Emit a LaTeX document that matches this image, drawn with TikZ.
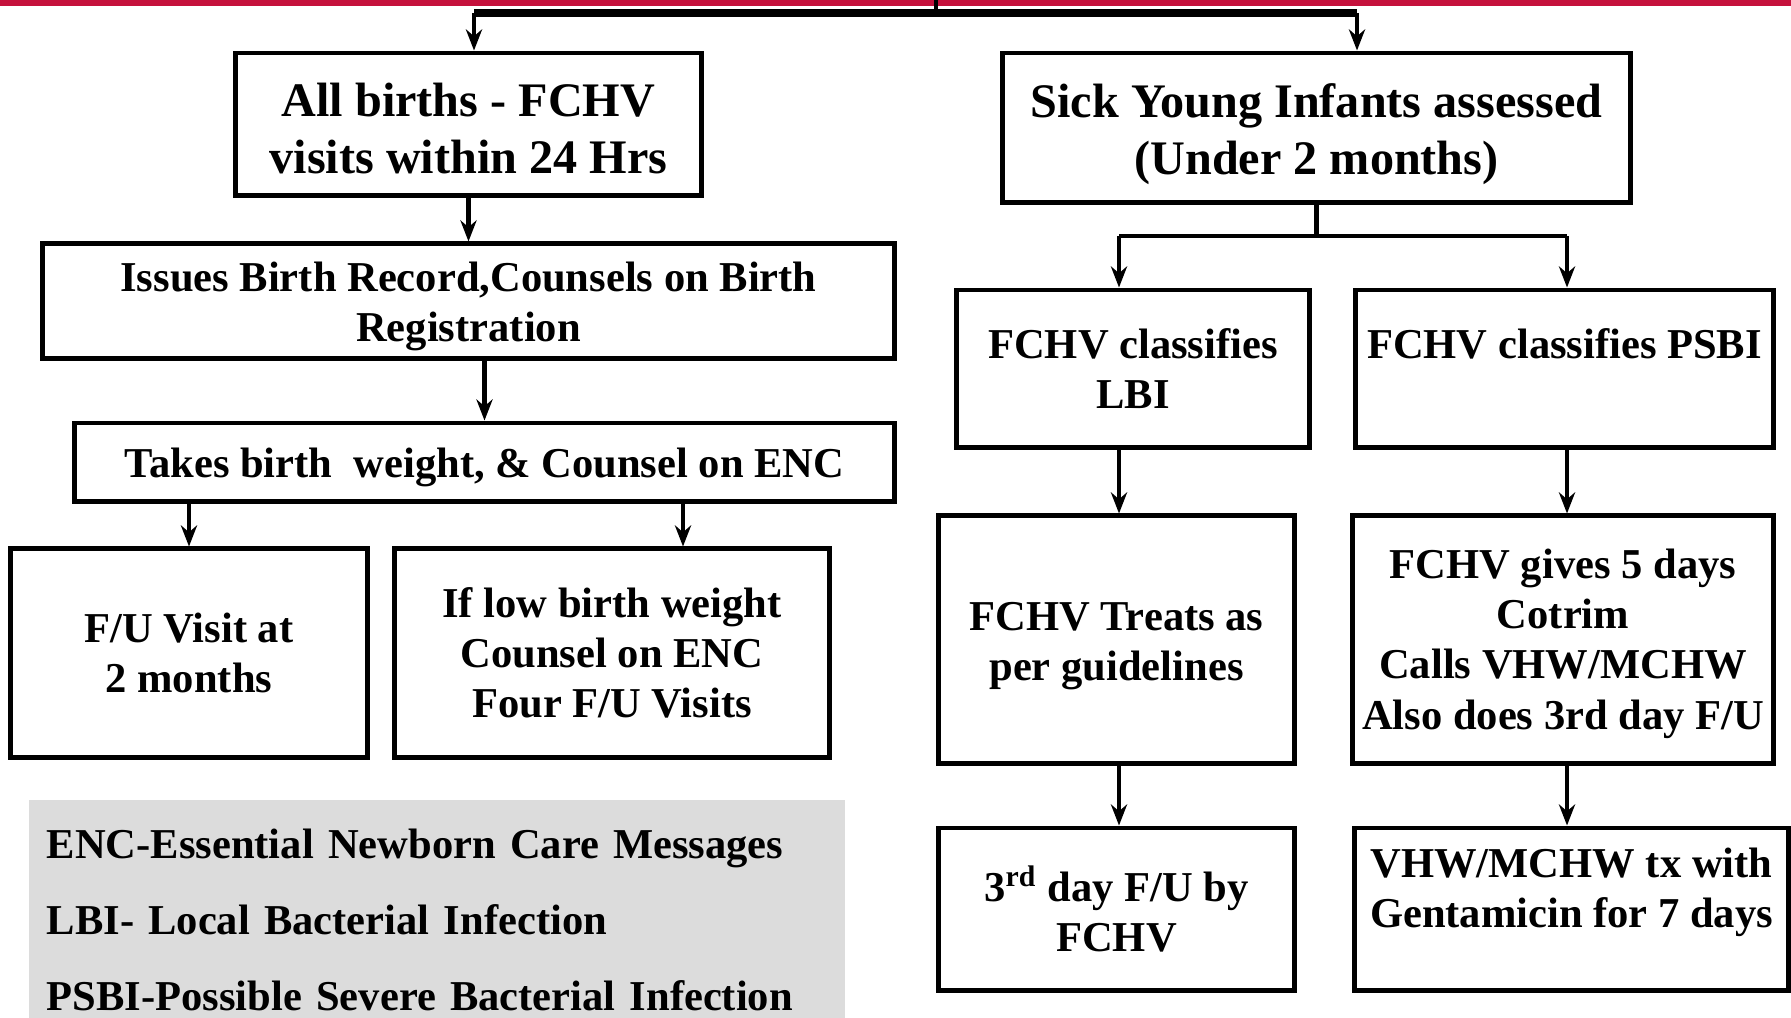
\documentclass[tikz,border=0pt]{standalone}
\usepackage{fontspec}
\setmainfont{Liberation Serif}
\usetikzlibrary{arrows.meta}

\definecolor{bandred}{RGB}{197,17,60}
\definecolor{keygray}{RGB}{220,220,220}
% invisible rule that pushes the first line of a box down a little
\newcommand{\topstrut}[1]{\rule{0pt}{#1}}

\tikzset{
  box/.style={draw, line width=1.4pt, align=center, inner sep=2pt,
    font=\fontsize{12.1}{14.3}\selectfont\bfseries},
  bigbox/.style={box, font=\fontsize{13.7}{16.2}\selectfont\bfseries},
  link/.style={line width=1.4pt},
  arr/.style={link, -{Stealth[length=6pt,width=4.6pt]}},
}

\begin{document}
\begin{tikzpicture}[x=0.01cm, y=-0.01cm]
  \useasboundingbox (0,0) rectangle (1791,1017);

  % Red band at the top
  \fill[bandred] (0,0) rectangle (1791,6);

  % Left branch: all births
  \node[bigbox, minimum width=4.65cm, minimum height=1.42cm] (births) at (468.5,124) {\topstrut{0.87em}All births - FCHV\\visits within 24 Hrs};
  \node[box, minimum width=8.51cm, minimum height=1.14cm] (record) at (468.5,301) {\topstrut{0.95em}Issues Birth Record,Counsels on Birth\\Registration};
  \node[box, minimum width=8.19cm, minimum height=0.78cm] (weight) at (484.5,462) {\topstrut{0.95em}Takes birth\ \ weight, \& Counsel on ENC};
  \node[box, minimum width=3.56cm, minimum height=2.08cm] (visit) at (189,653) {F/U Visit at\\2 months};
  \node[box, minimum width=4.34cm, minimum height=2.08cm] (lowbw) at (612,653) {If low birth weight\\Counsel on ENC\\Four F/U Visits};

  % Right branch: sick young infants
  \node[bigbox, minimum width=6.27cm, minimum height=1.49cm] (sick) at (1316.5,127.5) {\topstrut{0.965em}Sick Young Infants assessed\\(Under 2 months)};
  \node[box, minimum width=3.52cm, minimum height=1.57cm] (lbi) at (1133,368.5) {FCHV classifies\\LBI};
  \node[box, minimum width=4.17cm, minimum height=1.57cm] (psbi) at (1564.5,368.5) {FCHV classifies PSBI\\\mbox{}};
  \node[box, minimum width=3.55cm, minimum height=2.47cm] (treat) at (1116.5,639.5) {\topstrut{0.985em}FCHV Treats as\\per guidelines};
  \node[box, minimum width=4.20cm, minimum height=2.47cm] (cotrim) at (1563,639.5) {\topstrut{0.88em}FCHV gives 5 days\\Cotrim\\Calls VHW/MCHW\\Also does 3rd day F/U};
  \node[box, minimum width=3.55cm, minimum height=1.62cm] (fuday) at (1116.5,909) {3\textsuperscript{rd} day F/U by\\FCHV};
  \node[box, minimum width=4.33cm, minimum height=1.62cm] (genta) at (1571.5,909) {\topstrut{0.88em}VHW/MCHW tx with\\Gentamicin for 7 days\\\mbox{}};

  % Key to the abbreviations
  \node[fill=keygray, minimum width=8.16cm, minimum height=2.12cm, text width=7.8cm, align=left,
    font=\fontsize{12.1}{21.6}\selectfont\bfseries, execute at begin node={\rule{0pt}{1.1em}}] (key) at (437,911)
    {ENC-Essential Newborn Care Messages\\LBI- Local Bacterial Infection\\PSBI-Possible Severe Bacterial Infection};

  % Top split
  \coordinate (topin) at (936,0);
  \coordinate (barL) at (474,13);
  \coordinate (barR) at (1357,13);
  \draw[link] (topin) -- (topin |- barL);
  \draw[line width=2pt] (barL) -- (barR);
  \draw[arr] (barL) -- (barL |- births.north);
  \draw[arr] (barR) -- (barR |- sick.north);

  % Left connectors
  \coordinate (lowin) at (683,0);
  \draw[arr] (births.south) -- (record.north);
  \draw[arr] (weight.north |- record.south) -- (weight.north);
  \draw[arr] (visit.north |- weight.south) -- (visit.north);
  \draw[arr] (lowin |- weight.south) -- (lowin |- lowbw.north);

  % Right connectors
  \coordinate (forkL) at (1119,236);
  \coordinate (forkR) at (1567,236);
  \draw[link] (sick.south) -- (sick.south |- forkL);
  \draw[link] (forkL) -- (forkR);
  \draw[arr] (forkL) -- (forkL |- lbi.north);
  \draw[arr] (forkR) -- (forkR |- psbi.north);
  \draw[arr] (forkL |- lbi.south) -- (forkL |- treat.north);
  \draw[arr] (forkR |- psbi.south) -- (forkR |- cotrim.north);
  \draw[arr] (forkL |- treat.south) -- (forkL |- fuday.north);
  \draw[arr] (forkR |- cotrim.south) -- (forkR |- genta.north);
\end{tikzpicture}
\end{document}
